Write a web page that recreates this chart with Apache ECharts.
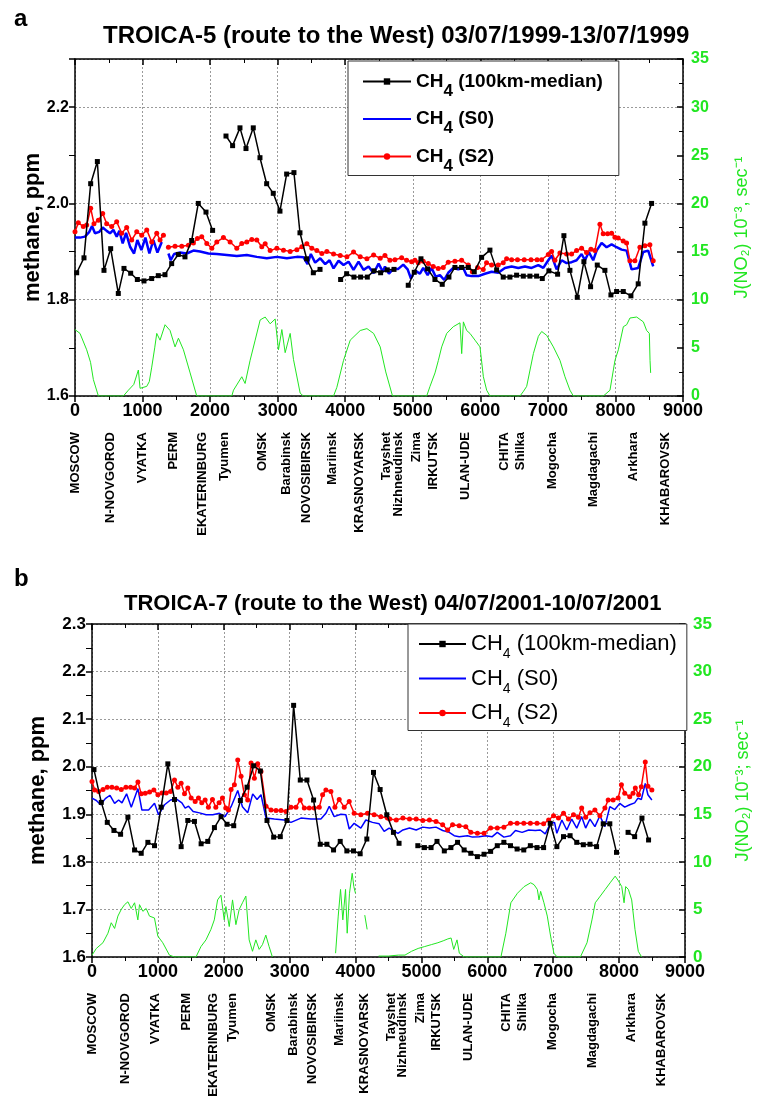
<!DOCTYPE html>
<html><head><meta charset="utf-8">
<script src="https://cdn.jsdelivr.net/npm/echarts@6/dist/echarts.min.js"></script>
<style>html,body{margin:0;padding:0;background:#fff}#c{width:760px;height:1107px}</style>
</head><body><div id="c"></div>
<script>
// ---------- DATA ----------
const xTicks = [0,1000,2000,3000,4000,5000,6000,7000,8000,9000];
const cityNames = ['MOSCOW','N-NOVGOROD','VYATKA','PERM','EKATERINBURG','Tyumen','OMSK','Barabinsk','NOVOSIBIRSK','Mariinsk','KRASNOYARSK','Tayshet','Nizhneudinsk','Zima','IRKUTSK','ULAN-UDE','CHITA','Shilka','Mogocha','Magdagachi','Arkhara','KHABAROVSK'];
const cityKmA = [0,520,1000,1460,1890,2210,2780,3130,3430,3815,4215,4610,4790,5060,5300,5780,6350,6590,7070,7670,8260,8740];
const cityKmB = [0,500,970,1430,1850,2130,2730,3060,3350,3750,4130,4540,4710,4990,5230,5710,6290,6530,6990,7600,8190,8640];

// Panel a: TROICA-5
const aMedian = [[25,1.856],[133,1.887],[232,2.041],[331,2.087],[429,1.861],[528,1.906],[641,1.813],[725,1.865],[824,1.855],[923,1.842],[1021,1.839],[1135,1.844],[1233,1.850],[1332,1.852],[1431,1.875],[1529,1.894],[1628,1.889],[1727,1.923],[1825,2.000],[1939,1.982],[2037,1.944],[2130,null],[2235,2.140],[2333,2.120],[2442,2.157],[2531,2.114],[2639,2.157],[2738,2.095],[2837,2.041],[2935,2.021],[3034,1.984],[3133,2.061],[3241,2.064],[3330,1.939],[3429,1.885],[3528,1.856],[3627,1.863],[3780,null],[3932,1.842],[4021,1.854],[4129,1.847],[4228,1.847],[4327,1.847],[4425,1.860],[4524,1.856],[4623,1.862],[4722,1.863],[4830,null],[4933,1.830],[5022,1.857],[5121,1.885],[5219,1.864],[5328,1.842],[5436,1.832],[5535,1.847],[5624,1.867],[5723,1.867],[5821,1.867],[5910,1.858],[6019,1.888],[6142,1.903],[6241,1.862],[6339,1.847],[6438,1.847],[6537,1.851],[6636,1.849],[6734,1.849],[6833,1.849],[6917,1.844],[7015,1.860],[7144,1.853],[7237,1.933],[7326,1.861],[7435,1.805],[7533,1.879],[7632,1.827],[7731,1.872],[7844,1.861],[7933,1.810],[8017,1.817],[8116,1.817],[8229,1.808],[8337,1.833],[8436,1.959],[8535,2.000]];
const aS0 = [[0,1.929],[74,1.929],[148,1.931],[212,1.941],[252,1.953],[296,1.938],[360,1.941],[410,1.950],[469,1.943],[518,1.938],[568,1.945],[617,1.931],[657,1.943],[706,1.917],[756,1.939],[815,1.910],[874,1.896],[923,1.924],[983,1.903],[1042,1.929],[1101,1.896],[1160,1.924],[1220,1.898],[1284,1.920],[1330,null],[1383,1.896],[1417,1.882],[1467,1.895],[1556,1.898],[1654,1.896],[1753,1.902],[1852,1.900],[1975,1.896],[2099,1.895],[2247,1.893],[2395,1.891],[2543,1.893],[2691,1.889],[2839,1.886],[2988,1.889],[3136,1.886],[3284,1.889],[3383,1.888],[3442,1.874],[3491,1.895],[3555,1.877],[3630,1.886],[3704,1.874],[3768,1.882],[3827,1.865],[3901,1.881],[3975,1.872],[4049,1.879],[4123,1.862],[4197,1.879],[4271,1.862],[4346,1.869],[4420,1.855],[4494,1.875],[4558,1.858],[4588,1.869],[4647,1.854],[4711,1.864],[4785,1.864],[4859,1.873],[4924,1.863],[4973,1.844],[5032,1.861],[5106,1.854],[5155,1.866],[5220,1.851],[5279,1.866],[5338,1.848],[5402,1.851],[5466,1.841],[5525,1.856],[5599,1.866],[5673,1.863],[5747,1.866],[5796,1.851],[5871,1.849],[5969,1.849],[6068,1.854],[6167,1.858],[6265,1.856],[6364,1.866],[6463,1.869],[6562,1.866],[6660,1.869],[6759,1.866],[6858,1.872],[6932,1.866],[7006,1.882],[7055,1.892],[7129,1.863],[7203,1.882],[7277,1.876],[7351,1.878],[7425,1.882],[7499,1.895],[7548,1.882],[7607,1.899],[7671,1.882],[7721,1.902],[7795,1.918],[7869,1.909],[7943,1.915],[8017,1.909],[8091,1.904],[8165,1.902],[8239,1.863],[8337,1.866],[8411,1.899],[8485,1.902],[8559,1.869]];
const aS2 = [[0,1.941],[49,1.960],[123,1.952],[173,1.955],[232,1.990],[281,1.958],[346,1.965],[410,1.979],[469,1.958],[543,1.952],[617,1.962],[691,1.938],[765,1.950],[839,1.924],[914,1.941],[988,1.934],[1062,1.945],[1136,1.920],[1210,1.938],[1259,1.924],[1309,1.934],[1345,null],[1383,1.909],[1481,1.911],[1580,1.911],[1679,1.913],[1753,1.918],[1812,1.927],[1876,1.931],[1951,1.917],[2025,1.907],[2099,1.920],[2197,1.929],[2296,1.920],[2395,1.907],[2469,1.917],[2543,1.920],[2617,1.925],[2691,1.924],[2765,1.910],[2815,1.916],[2889,1.902],[2988,1.907],[3086,1.903],[3185,1.900],[3284,1.904],[3358,1.910],[3432,1.916],[3506,1.907],[3580,1.902],[3654,1.896],[3728,1.900],[3827,1.895],[3926,1.892],[4025,1.889],[4123,1.899],[4222,1.889],[4321,1.885],[4420,1.893],[4518,1.886],[4588,1.892],[4662,1.882],[4736,1.883],[4835,1.887],[4909,1.882],[4983,1.879],[5032,1.882],[5081,1.877],[5155,1.880],[5229,1.875],[5303,1.869],[5377,1.865],[5451,1.867],[5525,1.878],[5624,1.880],[5723,1.882],[5821,1.872],[5881,1.858],[5959,1.867],[6043,1.863],[6092,1.877],[6167,1.872],[6265,1.872],[6339,1.877],[6389,1.885],[6463,1.883],[6550,1.883],[6650,1.883],[6750,1.883],[6840,1.883],[6907,1.883],[7006,1.894],[7055,1.900],[7104,1.882],[7178,1.897],[7277,1.895],[7351,1.895],[7425,1.902],[7499,1.907],[7572,1.898],[7637,1.905],[7696,1.902],[7770,1.957],[7819,1.937],[7884,1.937],[7943,1.938],[7992,1.930],[8041,1.928],[8115,1.922],[8165,1.918],[8214,1.881],[8288,1.881],[8362,1.909],[8436,1.912],[8510,1.914],[8559,1.881]];
const aJ = [[0,6.9],[74,6.5],[173,4.8],[230,3.5],[272,1.7],[346,0],[716,0],[790,0.6],[870,1.2],[938,2.7],[963,0.8],[1062,1.0],[1100,1.5],[1136,3.0],[1180,5.0],[1210,6.5],[1259,5.8],[1333,7.4],[1407,6.8],[1481,5.1],[1531,6.0],[1605,4.8],[1704,2.4],[1802,0],[2321,0],[2346,0.6],[2469,2.0],[2518,1.3],[2592,3.7],[2667,5.8],[2741,7.9],[2815,8.2],[2889,7.5],[2963,8.0],[3012,4.8],[3062,6.9],[3111,4.5],[3185,6.5],[3234,3.8],[3333,0.3],[3380,0],[3827,0],[3876,0.9],[3975,3.7],[4074,5.8],[4222,6.8],[4321,7.0],[4420,6.5],[4518,5.1],[4600,2.5],[4700,0],[5206,0],[5255,1.0],[5329,2.4],[5379,3.7],[5428,5.1],[5502,6.5],[5600,7.2],[5699,7.6],[5724,4.4],[5749,7.7],[5798,6.8],[5847,6.5],[5921,5.8],[5995,5.1],[6045,2.0],[6094,0.6],[6143,0],[6587,0],[6640,0.5],[6686,1.0],[6785,4.4],[6859,6.2],[6908,6.7],[6982,6.3],[7081,5.1],[7179,3.7],[7253,2.0],[7327,0.6],[7377,0],[7821,0],[7919,0.6],[7993,3.7],[8043,4.8],[8117,7.2],[8166,7.4],[8215,8.1],[8314,8.2],[8413,7.7],[8462,6.8],[8502,6.5],[8512,3.7],[8521,2.4]];

// Panel b: TROICA-7
const bMedian = [[30,1.994],[141,1.925],[232,1.883],[333,1.866],[434,1.858],[545,1.894],[646,1.825],[747,1.818],[848,1.841],[949,1.834],[1050,1.915],[1151,2.006],[1252,1.931],[1353,1.832],[1454,1.887],[1555,1.885],[1656,1.838],[1757,1.843],[1858,1.872],[1959,1.895],[2050,1.879],[2151,1.876],[2252,1.929],[2353,1.957],[2454,2.002],[2555,1.991],[2656,1.887],[2757,1.852],[2858,1.853],[2959,1.887],[3060,2.129],[3161,1.972],[3262,1.972],[3363,1.930],[3464,1.837],[3565,1.837],[3666,1.825],[3767,1.843],[3868,1.823],[3969,1.823],[4070,1.817],[4171,1.848],[4272,1.988],[4373,1.952],[4474,1.899],[4575,1.862],[4660,1.839],[4800,null],[4945,1.834],[5045,1.830],[5146,1.830],[5236,1.843],[5347,1.823],[5447,1.830],[5548,1.841],[5648,1.825],[5749,1.818],[5849,1.811],[5950,1.816],[6050,1.822],[6151,1.834],[6251,1.841],[6352,1.834],[6452,1.827],[6553,1.825],[6653,1.834],[6754,1.830],[6854,1.830],[6955,1.881],[7055,1.832],[7156,1.853],[7256,1.855],[7357,1.841],[7457,1.836],[7558,1.837],[7658,1.832],[7759,1.880],[7859,1.880],[7960,1.820],[8050,null],[8136,1.862],[8236,1.853],[8347,1.892],[8447,1.846]];
const bS0 = [[0,1.934],[66,1.929],[131,1.920],[202,1.933],[273,1.940],[343,1.923],[404,1.930],[455,1.924],[525,1.943],[596,1.915],[697,1.954],[757,1.909],[859,1.909],[949,1.923],[1010,1.899],[1101,1.920],[1192,1.930],[1283,1.932],[1364,1.924],[1414,1.913],[1465,1.917],[1535,1.906],[1631,1.903],[1732,1.899],[1833,1.899],[1934,1.902],[2020,1.895],[2111,1.916],[2212,1.950],[2283,1.916],[2363,1.903],[2439,1.943],[2505,1.931],[2565,1.941],[2641,1.892],[2767,1.890],[2919,1.888],[3020,1.883],[3171,1.892],[3323,1.890],[3474,1.890],[3550,1.902],[3601,1.917],[3676,1.895],[3777,1.900],[3853,1.899],[3904,1.869],[3979,1.881],[4080,1.871],[4156,1.888],[4257,1.883],[4358,1.880],[4434,1.864],[4510,1.871],[4568,1.866],[4643,1.860],[4719,1.867],[4819,1.871],[4920,1.867],[5020,1.873],[5121,1.871],[5221,1.873],[5322,1.866],[5422,1.862],[5497,1.855],[5573,1.853],[5698,1.855],[5774,1.852],[5874,1.853],[5975,1.855],[6075,1.853],[6151,1.862],[6251,1.852],[6352,1.855],[6427,1.866],[6528,1.862],[6628,1.867],[6729,1.866],[6804,1.867],[6879,1.859],[6955,1.880],[7020,1.883],[7055,1.860],[7131,1.888],[7206,1.867],[7281,1.890],[7357,1.871],[7432,1.895],[7492,1.871],[7558,1.890],[7633,1.874],[7708,1.897],[7784,1.874],[7859,1.916],[7935,1.910],[8010,1.923],[8085,1.915],[8161,1.920],[8236,1.924],[8286,1.934],[8337,1.931],[8397,1.965],[8437,1.941],[8497,1.930]];
const bS2 = [[0,1.969],[40,1.951],[101,1.948],[167,1.952],[232,1.957],[303,1.957],[374,1.955],[444,1.952],[515,1.957],[586,1.957],[646,1.955],[697,1.968],[747,1.943],[808,1.944],[874,1.947],[939,1.951],[1000,1.941],[1061,1.945],[1126,1.945],[1192,1.948],[1252,1.972],[1303,1.957],[1353,1.965],[1404,1.943],[1454,1.955],[1505,1.934],[1566,1.927],[1616,1.934],[1666,1.924],[1717,1.930],[1767,1.915],[1828,1.931],[1879,1.915],[1929,1.924],[1980,1.934],[2030,1.913],[2071,1.909],[2111,1.952],[2161,1.962],[2212,2.014],[2262,1.980],[2313,1.941],[2363,1.930],[2414,2.008],[2464,1.976],[2515,2.006],[2565,1.990],[2641,1.917],[2717,1.909],[2793,1.908],[2868,1.908],[2944,1.906],[3020,1.915],[3096,1.915],[3161,1.930],[3222,1.913],[3298,1.913],[3373,1.913],[3449,1.915],[3500,1.941],[3550,1.951],[3626,1.948],[3687,1.915],[3752,1.931],[3828,1.915],[3904,1.927],[3979,1.902],[4080,1.899],[4181,1.902],[4282,1.899],[4383,1.895],[4484,1.892],[4518,1.890],[4618,1.888],[4719,1.892],[4819,1.890],[4920,1.890],[5020,1.887],[5121,1.888],[5221,1.885],[5322,1.878],[5397,1.867],[5472,1.878],[5573,1.876],[5673,1.874],[5749,1.862],[5849,1.860],[5950,1.860],[6050,1.871],[6151,1.871],[6251,1.873],[6352,1.881],[6452,1.881],[6553,1.881],[6653,1.881],[6754,1.881],[6854,1.880],[6930,1.888],[7005,1.897],[7080,1.892],[7156,1.902],[7231,1.890],[7307,1.899],[7382,1.894],[7432,1.913],[7492,1.894],[7558,1.903],[7633,1.909],[7708,1.897],[7784,1.913],[7834,1.930],[7909,1.930],[7985,1.934],[8035,1.962],[8085,1.944],[8161,1.937],[8211,1.944],[8246,1.955],[8296,1.941],[8337,1.958],[8397,2.010],[8437,1.959],[8497,1.951]];
const bJ = [[0,0.2],[66,0.9],[166,1.5],[242,2.5],[292,3.6],[343,3.0],[393,4.3],[444,5.0],[494,5.5],[545,5.8],[595,5.1],[646,5.7],[696,3.9],[721,5.5],[772,4.8],[822,5.1],[872,4.3],[948,4.1],[999,2.2],[1074,1.5],[1175,0.2],[1251,0],[1578,0],[1654,1.1],[1730,1.8],[1805,2.9],[1856,3.9],[1906,6.0],[1957,6.5],[2007,3.9],[2032,5.3],[2083,3.2],[2133,6.0],[2184,3.4],[2234,5.0],[2284,5.7],[2335,6.4],[2385,1.8],[2436,0.6],[2486,1.8],[2537,0.8],[2587,1.3],[2638,2.3],[2688,1.1],[2738,0],[2800,null],[3697,0.4],[3737,4.3],[3772,7.1],[3807,3.9],[3848,7.1],[3873,2.5],[3908,6.7],[3949,8.8],[3974,7.4],[3999,6.7],[4070,null],[4140,4.4],[4176,2.9],[4230,null],[4350,0.1],[4500,0.1],[4650,0.2],[4750,0.2],[4850,0.6],[4950,0.9],[5050,1.1],[5150,1.3],[5250,1.5],[5330,1.7],[5400,1.9],[5450,2.0],[5490,0.8],[5540,1.8],[5575,0.4],[5650,0],[6206,0],[6281,2.5],[6357,5.7],[6457,6.7],[6558,7.4],[6658,7.8],[6709,7.6],[6759,7.1],[6784,6.0],[6809,6.9],[6859,5.7],[6910,4.3],[6960,2.2],[7010,0.4],[7060,0],[7412,0],[7513,1.5],[7588,3.9],[7638,5.7],[7714,6.4],[7789,7.1],[7864,7.8],[7940,8.5],[7990,8.0],[8040,7.4],[8075,5.7],[8100,7.4],[8141,7.1],[8191,6.0],[8241,2.9],[8291,0.6],[8342,0]];

const seriesLabels = {M:'(100km-median)', S0:'(S0)', S2:'(S2)'};
const titleA = 'TROICA-5 (route to the West) 03/07/1999-13/07/1999';
const titleB = 'TROICA-7 (route to the West) 04/07/2001-10/07/2001';
const yNameLeft = 'methane, ppm';
const yNameRightA = 'J(NO\u2082) 10\u207B\u00B3, sec\u207B\u00B9';
const yNameRightB = 'J(NO\u2082) 10\u207B\u00B3; sec\u207B\u00B9';

// ---------- CHART ----------
const FONT = '"Liberation Sans", Arial, sans-serif';
const GREEN = '#22e622';
const GRID = '#9a9a9a';
const chart = echarts.init(document.getElementById('c'), null, {renderer:'canvas'});

function xMain(g, fs){
  return {type:'value', gridIndex:g, position:'bottom', min:0, max:9000, interval:1000,
    axisLine:{show:true, onZero:false, lineStyle:{color:'#000', width:1.5}},
    axisTick:{show:true, inside:false, length:6, lineStyle:{color:'#000', width:1.5}},
    minorTick:{show:true, splitNumber:2, length:4, lineStyle:{color:'#000', width:1}},
    axisLabel:{fontSize:fs, fontWeight:'bold', color:'#000', fontFamily:FONT, margin:6, formatter:(v)=>String(v)},
    splitLine:{show:true, lineStyle:{color:GRID, type:[2,2], width:1}}};
}
function xCity(g, kms){
  return {type:'value', gridIndex:g, position:'bottom', min:0, max:9000,
    axisLine:{show:false}, axisTick:{show:false}, splitLine:{show:false}, minorTick:{show:false},
    axisLabel:{show:true, customValues:kms, rotate:90, margin:36, fontSize:13, fontWeight:'bold',
      color:'#000', fontFamily:FONT, hideOverlap:false,
      formatter:(v)=>{const i = kms.indexOf(v); return i>=0 ? cityNames[i] : '';}}};
}
function xTop(g){
  return {type:'value', gridIndex:g, position:'top', min:0, max:9000, interval:1000,
    axisLine:{show:true, onZero:false, lineStyle:{color:'#000', width:1.5}},
    axisTick:{show:true, inside:true, length:6, lineStyle:{color:'#000', width:1.5}},
    minorTick:{show:true, splitNumber:2, length:4, lineStyle:{color:'#000'}},
    axisLabel:{show:false}, splitLine:{show:false}};
}
function yLeft(g, interval, showMax, fs, gap){
  return {type:'value', gridIndex:g, position:'left', min:1.6, max:2.3, interval:interval,
    axisLine:{show:true, onZero:false, lineStyle:{color:'#000', width:1.5}},
    axisTick:{show:true, inside:false, length:6, lineStyle:{color:'#000', width:1.5}},
    minorTick:{show:true, splitNumber:2, length:6, lineStyle:{color:'#000', width:1}},
    axisLabel:{formatter:(v)=>v.toFixed(1), fontSize:fs, fontWeight:'bold', color:'#000', fontFamily:FONT, margin:6, showMaxLabel:showMax},
    splitLine:{show:true, lineStyle:{color:GRID, type:[2,2], width:1}},
    name:yNameLeft, nameLocation:'middle', nameRotate:90, nameGap:gap, nameMoveOverlap:false,
    nameTextStyle:{fontSize:22, fontWeight:'bold', color:'#000', fontFamily:FONT}};
}
function yRight(g, name, fs, gap){
  return {type:'value', gridIndex:g, position:'right', min:0, max:35, interval:5,
    axisLine:{show:true, onZero:false, lineStyle:{color:'#000', width:1.5}},
    axisTick:{show:true, inside:true, length:6, lineStyle:{color:'#000', width:1.5}},
    minorTick:{show:true, splitNumber:2, length:4, lineStyle:{color:'#000'}},
    axisLabel:{fontSize:fs, fontWeight:'bold', color:GREEN, fontFamily:FONT, margin:8},
    splitLine:{show:false},
    name:name, nameLocation:'middle', nameRotate:90, nameGap:gap, nameMoveOverlap:false,
    nameTextStyle:{fontSize:18, color:GREEN, fontFamily:FONT}};
}
function mkSeries(key, data, xi, yi, style){
  return Object.assign({type:'line', name:key, data:data, xAxisIndex:xi, yAxisIndex:yi,
    connectNulls:false, animation:false, silent:true}, style);
}
function panelSeries(med, s0, s2, j, xi, yl, yr, blueW){
  return [
    {type:'line', name:'J', data:j, xAxisIndex:xi, yAxisIndex:yr, showSymbol:false, symbol:'none',
      lineStyle:{color:GREEN, width:1}, itemStyle:{color:GREEN}, connectNulls:false, animation:false, silent:true, z:1},
    mkSeries('S0', s0, xi, yl, {symbol:'none', showSymbol:false, lineStyle:{color:'#0000ff', width:blueW}, itemStyle:{color:'#0000ff'}, z:2}),
    mkSeries('S2', s2, xi, yl, {symbol:'circle', symbolSize:5, showSymbol:true, lineStyle:{color:'#ff0000', width:1.5}, itemStyle:{color:'#ff0000'}, z:3}),
    mkSeries('M', med, xi, yl, {symbol:'rect', symbolSize:5, showSymbol:true, lineStyle:{color:'#000', width:1.5}, itemStyle:{color:'#000'}, z:4})
  ];
}
function legendCfg(left, top, pad, bold, fs, subFs, lh, subLh, iw, gap){
  return {show:true, orient:'vertical', left:left, top:top, padding:pad, itemGap:gap,
    itemWidth:iw, itemHeight:8,
    data:['M', {name:'S0', itemStyle:{color:'rgba(0,0,0,0)', opacity:0, borderWidth:0}}, 'S2'],
    backgroundColor:'#fff', borderColor:'#333', borderWidth:1, selectedMode:false,
    formatter:(n)=>'{a|CH}{s|4}{a| ' + seriesLabels[n] + '}',
    textStyle:{rich:{
      a:{fontSize:fs, fontWeight:bold?'bold':'normal', fontFamily:FONT, color:'#000', lineHeight:lh, verticalAlign:'middle'},
      s:{fontSize:subFs, fontWeight:bold?'bold':'normal', fontFamily:FONT, color:'#000', lineHeight:subLh, verticalAlign:'bottom'}}}};
}

const option = {
  backgroundColor:'#fff',
  animation:false,
  title:[
    {text:'a', left:9, top:2, textStyle:{fontSize:24, fontWeight:'bold', color:'#000', fontFamily:FONT}},
    {text:titleA, left:98, top:19, textStyle:{fontSize:24, fontWeight:'bold', color:'#000', fontFamily:FONT}},
    {text:'b', left:9, top:562, textStyle:{fontSize:24, fontWeight:'bold', color:'#000', fontFamily:FONT}},
    {text:titleB, left:119, top:588, textStyle:{fontSize:22, fontWeight:'bold', color:'#000', fontFamily:FONT}}
  ],
  legend:[
    legendCfg(348, 61, [11,16,1,14], true, 19, 17, 36, 20, 48, 10),
    legendCfg(408, 624, [9,10,0,10], false, 22, 14, 35, 18, 47, 6)
  ],
  grid:[
    {left:75, top:59, width:608, height:337, containLabel:false},
    {left:92, top:624, width:597, height:333, containLabel:false}
  ],
  xAxis:[xMain(0,18), xCity(0,cityKmA), xTop(0), xMain(1,18), xCity(1,cityKmB), xTop(1)],
  yAxis:[yLeft(0,0.2,false,16,31), yRight(0,yNameRightA,16,50), yLeft(1,0.1,true,17,43), yRight(1,yNameRightB,17,49)],
  series:[].concat(
    panelSeries(aMedian, aS0, aS2, aJ, 0, 0, 1, 2.5),
    panelSeries(bMedian, bS0, bS2, bJ, 3, 2, 3, 1.5)
  )
};
chart.setOption(option);
</script></body></html>
